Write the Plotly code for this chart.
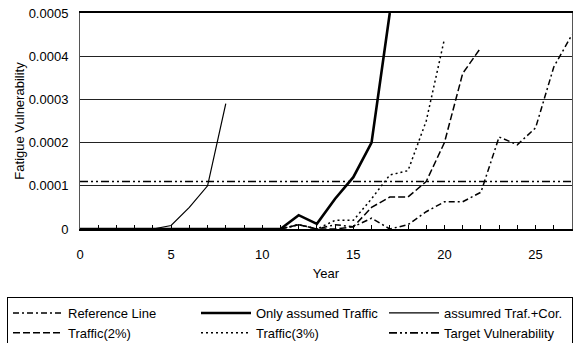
import plotly.graph_objects as go

# ---- data ----
years_cor = [0, 1, 2, 3, 4, 5, 6, 7, 8]
vals_cor = [0, 0, 0, 0, 0, 0.000008, 0.00005, 0.0001, 0.00029]

years_only = list(range(0, 18))
vals_only = [0, 0, 0, 0, 0, 0, 0, 0, 0, 0, 0, 0, 0.000032, 0.000012,
             0.00007, 0.00012, 0.0002, 0.0005]

years_t2 = list(range(11, 23))
vals_t2 = [0, 0.00001, 0, 0, 0.000005, 0.00005, 0.000074, 0.000074,
           0.00011, 0.0002, 0.00036, 0.00042]

years_t3 = list(range(11, 21))
vals_t3 = [0, 0.00001, 0, 0.00002, 0.00002, 0.00007, 0.000125, 0.000135,
           0.00025, 0.00044]

years_ref = list(range(11, 28))
vals_ref = [0, 0.00001, 0, 0.00001, 0.000005, 0.000025, 0, 0.00001,
            0.00004, 0.000063, 0.000063, 0.000085, 0.000213, 0.000195,
            0.000234, 0.000375, 0.00045]

years_target = [0, 27]
vals_target = [0.00011, 0.00011]

y_tickvals = [0, 0.0001, 0.0002, 0.0003, 0.0004, 0.0005]
y_ticktext = ["0", "0.0001", "0.0002", "0.0003", "0.0004", "0.0005"]
x_tickvals = [0, 5, 10, 15, 20, 25]
x_ticktext = ["0", "5", "10", "15", "20", "25"]

FONT = "Liberation Sans, Arial, sans-serif"

fig = go.Figure()
fig.add_trace(go.Scatter(x=years_ref, y=vals_ref, mode="lines", name="Reference Line",
                         line=dict(color="black", width=1.5, dash="6px,3px,2px,3px")))
fig.add_trace(go.Scatter(x=years_only, y=vals_only, mode="lines", name="Only assumed Traffic",
                         line=dict(color="black", width=2.6)))
fig.add_trace(go.Scatter(x=years_cor, y=vals_cor, mode="lines", name="assumred Traf.+Cor.",
                         line=dict(color="black", width=1.2)))
fig.add_trace(go.Scatter(x=years_t2, y=vals_t2, mode="lines", name="Traffic(2%)",
                         line=dict(color="black", width=1.5, dash="7px,3px")))
fig.add_trace(go.Scatter(x=years_t3, y=vals_t3, mode="lines", name="Traffic(3%)",
                         line=dict(color="black", width=1.5, dash="2px,3px")))
fig.add_trace(go.Scatter(x=years_target, y=vals_target, mode="lines", name="Target Vulnerability",
                         line=dict(color="black", width=1.6, dash="8px,3px,2px,3px,2px,3px")))

fig.update_layout(
    width=578, height=343,
    margin=dict(l=80, r=6, t=13, b=114, autoexpand=False),
    paper_bgcolor="white", plot_bgcolor="white",
    font=dict(family=FONT, size=13, color="black"),
    showlegend=True,
    legend=dict(
        orientation="h",
        x=(7 - 80) / 492, xanchor="left",
        y=(229 - 297) / 216, yanchor="top",
        entrywidth=123, entrywidthmode="pixels",
        bordercolor="black", borderwidth=1,
        font=dict(family=FONT, size=13, color="black"),
        itemwidth=50, tracegroupgap=0,
        bgcolor="white",
    ),
)
fig.update_xaxes(
    range=[0, 27], tickvals=x_tickvals, ticktext=x_ticktext,
    ticks="inside", ticklen=4, tickcolor="black",
    minor=dict(dtick=1, ticks="inside", ticklen=4, tickcolor="black", showgrid=False),
    showgrid=False, zeroline=False,
    showline=True, linecolor="black", linewidth=2, mirror=True,
    ticklabelstandoff=12,
    title=dict(text="Year", standoff=8, font=dict(size=13)),
)
fig.update_yaxes(
    range=[0, 0.0005], tickvals=y_tickvals, ticktext=y_ticktext,
    ticks="", showgrid=True, gridcolor="#222", gridwidth=1,
    zeroline=False, showline=True, linecolor="#555", linewidth=1, mirror=True,
    ticklabelstandoff=8,
    title=dict(text="Fatigue Vulnerability", standoff=1, font=dict(size=13)),
)

fig.write_html("out.html")
